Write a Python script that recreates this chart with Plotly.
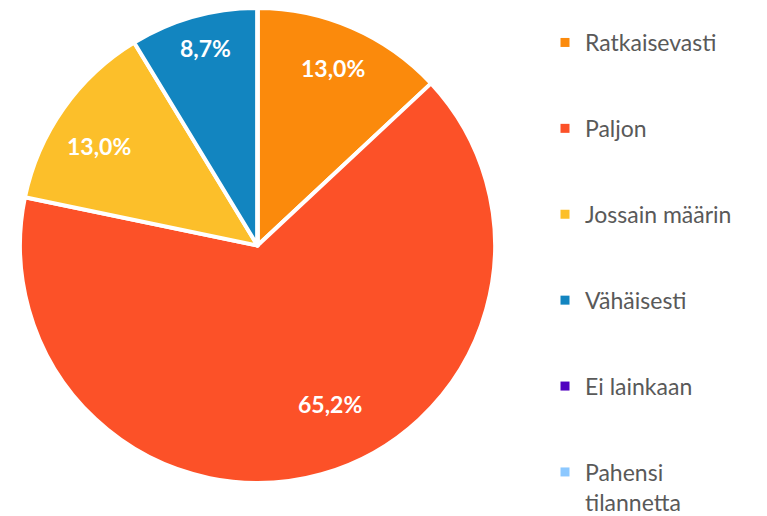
import math
import plotly.graph_objects as go

categories = ["Ratkaisevasti", "Paljon", "Jossain määrin", "Vähäisesti", "Ei lainkaan", "Pahensi tilannetta"]
legend_labels = ["Ratkaisevasti", "Paljon", "Jossain määrin", "Vähäisesti", "Ei lainkaan", "Pahensi<br>tilannetta"]
values = [3, 15, 3, 2, 0, 0]
colors = ["#FB8A0C", "#FC5128", "#FCBF2A", "#1285C0", "#5000C0", "#8CC8FF"]

total = sum(values)
texts = [(f"{v / total * 100:.1f}".replace(".", ",") + "%") if v > 0 else "" for v in values]

W, H = 767, 516
OFF = 8  # page body margin offset
# pie geometry (pixels, figure coords)
px0, px1 = 20 - OFF, 495 - OFF
py0, py1 = 0, 475
cx, cy = (px0 + px1) / 2, (py0 + py1) / 2
R = min(px1 - px0, py1 - py0) / 2
# label placement style (radial fraction, angular nudge in degrees)
label_frac = [0.814, 0.735, 0.79, 0.86, 0.8, 0.8]
label_nudge = [-0.5, -8.9, -3.1, 0.8, 0, 0]

fig = go.Figure()
fig.add_trace(go.Pie(
    labels=categories,
    values=values,
    textinfo="none",
    marker=dict(colors=colors, line=dict(color="white", width=4)),
    sort=False,
    direction="clockwise",
    rotation=0,
    showlegend=False,
    domain=dict(x=[px0 / W, px1 / W], y=[1 - py1 / H, 1 - py0 / H]),
))

# data labels placed at slice mid-angles
cum = 0
for v, t, f, nd in zip(values, texts, label_frac, label_nudge):
    if v > 0:
        ang = math.radians((cum + v / 2) / total * 360 + nd)
        lx = cx + f * R * math.sin(ang)
        ly = cy - f * R * math.cos(ang)
        fig.add_annotation(
            x=lx / W, y=1 - ly / H, xref="paper", yref="paper",
            text=t, showarrow=False,
            font=dict(family="Lato", size=23, color="white", weight="bold"),
            xanchor="center", yanchor="middle",
        )
    cum += v

for lab, col in zip(legend_labels, colors):
    fig.add_trace(go.Scatter(
        x=[None], y=[None], mode="markers",
        marker=dict(symbol="square", size=9, color=col),
        name=lab, legendgroup=lab, showlegend=True,
    ))

fig.update_layout(
    width=W, height=H,
    margin=dict(l=0, r=0, t=0, b=0),
    paper_bgcolor="white", plot_bgcolor="white",
    xaxis=dict(visible=False), yaxis=dict(visible=False),
    legend=dict(
        x=(545 - OFF) / W, xanchor="left", y=1 - 29 / H, yanchor="top",
        font=dict(family="Lato", size=23, color="#595959"),
        tracegroupgap=53, valign="top",
        bgcolor="rgba(0,0,0,0)",
    ),
)

fig.write_html("out.html")
